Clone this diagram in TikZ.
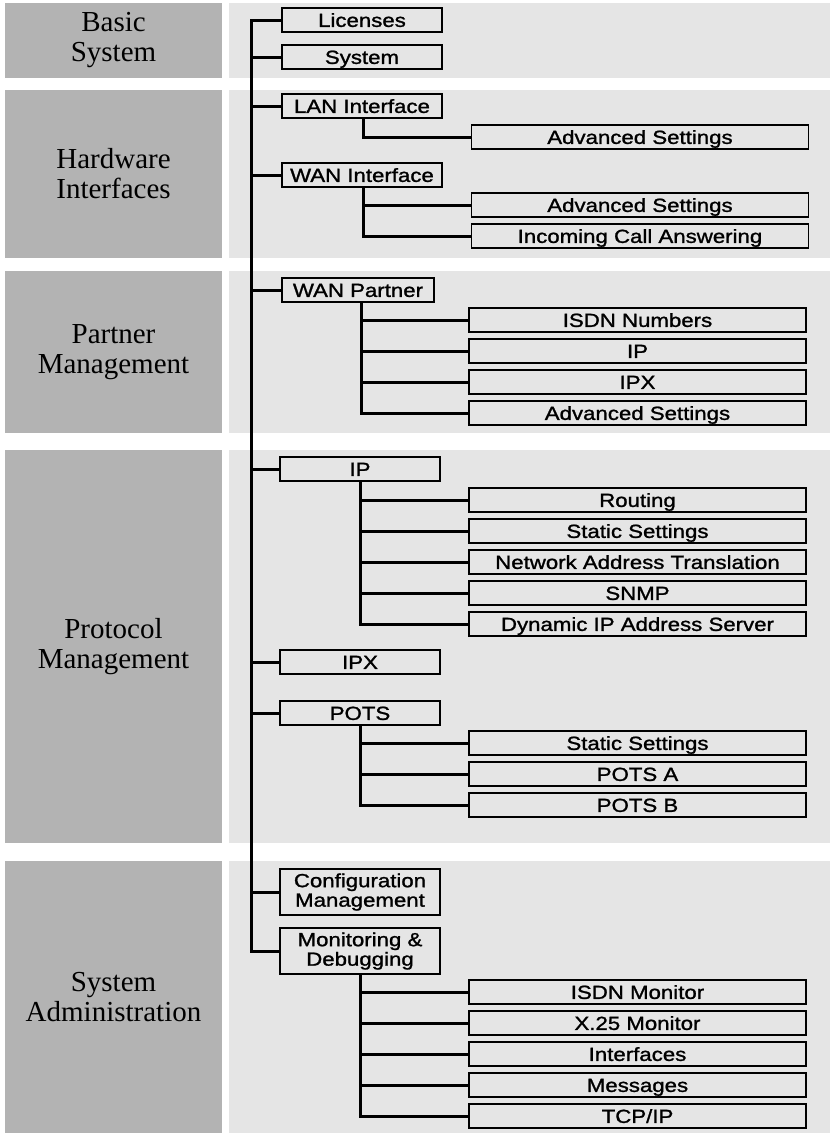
\documentclass[tikz,border=0pt]{standalone}
\usepackage{fontspec}
\setmainfont{Liberation Serif}
\newfontfamily\boxfont[FakeStretch=1.17,FakeBold=1.3]{Liberation Sans}
\definecolor{darkband}{HTML}{B3B3B3}
\definecolor{lightband}{HTML}{E5E5E5}
\begin{document}
\begin{tikzpicture}[x=1pt,y=-1pt,
  lbl/.style={font=\fontsize{29}{30}\selectfont, align=center, text=black, inner sep=0pt},
  lvl/.style={draw=black, line width=1.6pt, fill=lightband, minimum width=160pt, minimum height=24pt,
              inner sep=0pt, text height=13.8pt, text depth=0pt, font=\boxfont\fontsize{19}{20}\selectfont},
  subbox/.style={lvl, minimum width=337pt},
  twoline/.style={draw=black, line width=1.6pt, fill=lightband, minimum width=160pt, minimum height=46pt,
              inner sep=0pt, align=center, font=\boxfont\fontsize{19}{19.5}\selectfont},
  conn/.style={line width=3pt}]
\useasboundingbox (0,0) rectangle (830,1135);
% bands
\fill[darkband] (5,3) rectangle (222,78);
\fill[lightband] (229,3) rectangle (830,78);
\fill[darkband] (5,90) rectangle (222,258);
\fill[lightband] (229,90) rectangle (830,258);
\fill[darkband] (5,271) rectangle (222,433);
\fill[lightband] (229,271) rectangle (830,433);
\fill[darkband] (5,450) rectangle (222,843);
\fill[lightband] (229,450) rectangle (830,843);
\fill[darkband] (5,861) rectangle (222,1133);
\fill[lightband] (229,861) rectangle (830,1133);
% band labels
\node[lbl] (lb1) at (113.5,40.5) {Basic\\System};
\node[lbl] (lb2) at (113.5,174) {Hardware\\Interfaces};
\node[lbl] (lb3) at (113.5,352) {Partner\\Management};
\node[lbl] (lb4) at (113.5,646.5) {Protocol\\Management};
\node[lbl] (lb5) at (113.5,997) {System\\Administration};
\coordinate (tk) at (251,0);
% level 1
\node[lvl] (lic) at (362,20) {Licenses};
\node[lvl] (sys) at (362,57) {System};
\node[lvl] (lan) at (362,106) {LAN Interface};
\node[lvl] (wan) at (362,175) {WAN Interface};
\node[lvl, minimum width=152pt] (wp) at (358,290) {WAN Partner};
\node[lvl] (ip) at (360,469) {IP};
\node[lvl] (ipx) at (360,662) {IPX};
\node[lvl] (pots) at (360,713) {POTS};
\node[twoline] (cfg) at (360,892) {Configuration\\Management};
\node[twoline] (mon) at (360,951) {Monitoring \&\\Debugging};
% level 2
\node[subbox] (lanadv) at (640,137) {Advanced Settings};
\node[subbox] (wanadv) at (640,205) {Advanced Settings};
\node[subbox] (inc) at (640,236) {Incoming Call Answering};
\node[subbox] (isdn) at (637.5,320) {ISDN Numbers};
\node[subbox] (wpip) at (637.5,351) {IP};
\node[subbox] (wpipx) at (637.5,382) {IPX};
\node[subbox] (wpadv) at (637.5,413) {Advanced Settings};
\node[subbox] (rout) at (637.5,500) {Routing};
\node[subbox] (stat) at (637.5,531) {Static Settings};
\node[subbox] (nat) at (637.5,562) {Network Address Translation};
\node[subbox] (snmp) at (637.5,593) {SNMP};
\node[subbox] (dyn) at (637.5,624) {Dynamic IP Address Server};
\node[subbox] (pstat) at (637.5,743) {Static Settings};
\node[subbox] (potsa) at (637.5,774) {POTS A};
\node[subbox] (potsb) at (637.5,805) {POTS B};
\node[subbox] (isdnm) at (637.5,992) {ISDN Monitor};
\node[subbox] (x25) at (637.5,1023) {X.25 Monitor};
\node[subbox] (intf) at (637.5,1054) {Interfaces};
\node[subbox] (msg) at (637.5,1085) {Messages};
\node[subbox] (tcp) at (637.5,1116) {TCP/IP};
% trunk
\draw[conn] (lic.west) -| (tk |- mon.west) -- (mon.west);
\foreach \n in {sys,lan,wan,wp,ip,ipx,pots,cfg}
  \draw[conn] (\n.west) -- (\n.west -| tk);
% subtrees
\draw[conn] ([xshift=82pt]lan.south west) |- (lanadv.west);
\foreach \c in {wanadv,inc}
  \draw[conn] ([xshift=82pt]wan.south west) |- (\c.west);
\foreach \c in {isdn,wpip,wpipx,wpadv}
  \draw[conn] ([xshift=80pt]wp.south west) |- (\c.west);
\foreach \c in {rout,stat,nat,snmp,dyn}
  \draw[conn] ([xshift=81pt]ip.south west) |- (\c.west);
\foreach \c in {pstat,potsa,potsb}
  \draw[conn] ([xshift=81pt]pots.south west) |- (\c.west);
\foreach \c in {isdnm,x25,intf,msg,tcp}
  \draw[conn] ([xshift=81pt]mon.south west) |- (\c.west);
\end{tikzpicture}
\end{document}
